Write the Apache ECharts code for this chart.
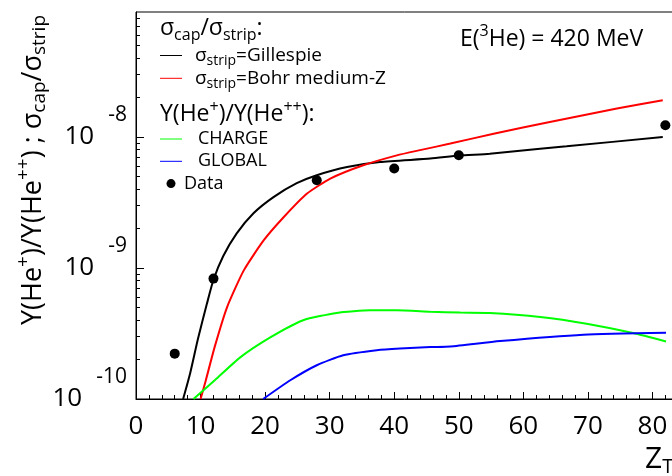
<!DOCTYPE html>
<html><head><meta charset="utf-8">
<script src="https://cdn.jsdelivr.net/npm/echarts@6/dist/echarts.min.js"></script>
<style>html,body{margin:0;padding:0;background:#fff}#c{width:672px;height:476px}</style>
</head><body><div id="c"></div>
<script>
// ---- data ----
const zGillespie = [7.3, 8.4, 9.6, 11.0, 12.0, 13.5, 15.6, 18.2, 21.3, 24.9, 28.0, 32.7, 37.8, 45.6, 50.0, 54.8, 62.6, 66.7, 81.6];
const vGillespie = [1.0e-10, 1.58e-10, 2.88e-10, 5.37e-10, 8.13e-10, 1.23e-9, 1.84e-9, 2.62e-9, 3.48e-9, 4.44e-9, 5.11e-9, 5.90e-9, 6.44e-9, 6.84e-9, 7.21e-9, 7.46e-9, 8.13e-9, 8.49e-9, 1.0e-8];
const zBohr = [10.0, 10.8, 12.2, 14.1, 16.7, 19.8, 22.9, 26.5, 30.1, 35.2, 40.4, 44.0, 48.7, 55.4, 64.1, 74.5, 81.6];
const vBohr = [1.0e-10, 1.38e-10, 2.51e-10, 5.01e-10, 9.59e-10, 1.63e-9, 2.45e-9, 3.70e-9, 4.81e-9, 6.08e-9, 7.24e-9, 7.94e-9, 8.91e-9, 1.06e-8, 1.30e-8, 1.65e-8, 1.91e-8];
const zCharge = [8.9, 12.2, 16.1, 20.8, 25.9, 31.1, 36.3, 40.4, 45.6, 50.2, 54.8, 62.6, 69.8, 77.0, 82.1];
const vCharge = [1.0e-10, 1.39e-10, 2.07e-10, 2.95e-10, 3.99e-10, 4.54e-10, 4.75e-10, 4.75e-10, 4.64e-10, 4.57e-10, 4.54e-10, 4.23e-10, 3.76e-10, 3.19e-10, 2.75e-10];
const zGlobal = [19.7, 23.9, 28.0, 32.1, 37.3, 40.9, 45.6, 48.7, 56.4, 69.3, 82.1];
const vGlobal = [1.0e-10, 1.39e-10, 1.81e-10, 2.16e-10, 2.36e-10, 2.43e-10, 2.49e-10, 2.52e-10, 2.77e-10, 3.10e-10, 3.21e-10];
const zData = [6, 12, 28, 40, 50, 82];
const vData = [2.22e-10, 8.3e-10, 4.67e-9, 5.74e-9, 7.25e-9, 1.23e-8];
const yMinorTicks = [2e-10,3e-10,4e-10,5e-10,6e-10,7e-10,8e-10,9e-10,
                     2e-9,3e-9,4e-9,5e-9,6e-9,7e-9,8e-9,9e-9,
                     2e-8,3e-8,4e-8,5e-8,6e-8,7e-8,8e-8];
const xMin = 0, xMax = 90, xStep = 10;
const yMin = 1e-10, yMax = 9e-8;

const F = "'Open Sans', 'Noto Sans', sans-serif";
const pair = (xs, ys) => xs.map((x, i) => [x, ys[i]]);
const chart = echarts.init(document.getElementById('c'), null, {renderer: 'canvas'});

const lineSeries = (name, xs, ys, color) => ({
  name, type: 'line', data: pair(xs, ys), symbol: 'none', smooth: 0.2,
  lineStyle: {color, width: 2}, itemStyle: {color}, z: 3
});
const LINE_ICON = 'path://M0,0H22V1H0Z';

chart.setOption({
  animation: false,
  backgroundColor: '#fff',
  grid: {left: 136, top: 12, width: 581, height: 387, show: true, borderColor: '#000', borderWidth: 1,
         backgroundColor: 'transparent', outerBoundsMode: 'none', containLabel: false},
  xAxis: {
    type: 'value', min: xMin, max: xMax, interval: xStep,
    axisLine: {lineStyle: {color: '#000', width: 1}},
    axisTick: {inside: true, length: 7, lineStyle: {color: '#000'}},
    minorTick: {show: true, splitNumber: 5, length: 4, lineStyle: {color: '#000'}},
    splitLine: {show: false},
    axisLabel: {fontSize: 26, fontFamily: F, color: '#000', margin: 15, showMaxLabel: false}
  },
  yAxis: [{
    type: 'log', logBase: 10, min: yMin, max: yMax,
    axisLine: {show: true, lineStyle: {color: '#000', width: 1}},
    axisTick: {inside: true, length: 8, lineStyle: {color: '#000'}},
    splitLine: {show: false},
    axisLabel: {
      margin: 9, showMaxLabel: false,
      formatter: v => {
        const l = Math.log10(v), e = Math.round(l);
        if (Math.abs(l - e) > 1e-6) return '';
        return '{b|10}{e|' + e + '}';
      },
      rich: {
        b: {fontSize: 26, fontFamily: F, color: '#000', lineHeight: 30},
        e: {fontSize: 21, fontFamily: F, color: '#000', padding: [0, 0, 44, 14]}
      }
    }
  }, {
    type: 'log', logBase: 10, min: yMin, max: yMax, position: 'left',
    axisLine: {show: false}, axisLabel: {show: false}, splitLine: {show: false},
    axisTick: {inside: true, length: 4, customValues: yMinorTicks, lineStyle: {color: '#000'}}
  }],
  legend: [{
    orient: 'vertical', left: 160, top: 46, padding: 0, itemGap: 0.3,
    itemWidth: 22, itemHeight: 9, symbolKeepAspect: true,
    data: [{name: 'Gillespie', icon: LINE_ICON}, {name: 'Bohr', icon: LINE_ICON}],
    formatter: n => n === 'Gillespie' ? '{m|σ}{s|strip}{m|=Gillespie}' : '{m|σ}{s|strip}{m|=Bohr medium-Z}',
    textStyle: {padding: [0, 0, 0, 8], rich: {
      m: {fontSize: 19, fontFamily: F, color: '#000', lineHeight: 22},
      s: {fontSize: 14, fontFamily: F, color: '#000', padding: [12, 0, 0, 0]}
    }}
  }, {
    orient: 'vertical', left: 160, top: 128, padding: 0, itemGap: 0.3,
    itemWidth: 22, itemHeight: 9, symbolKeepAspect: true,
    data: [
      {name: 'CHARGE', icon: LINE_ICON, textStyle: {padding: [0, 0, 0, 11]}},
      {name: 'GLOBAL', icon: LINE_ICON, textStyle: {padding: [0, 0, 0, 11]}},
      {name: 'Data', icon: 'circle', textStyle: {padding: [0, 0, 0, -3]}}
    ],
    textStyle: {fontSize: 18, fontFamily: F, color: '#000', lineHeight: 22}
  }],
  graphic: [
    {type: 'text', left: 160, top: 17, style: {
      text: '{m|σ}{s|cap}{m|/σ}{s|strip}{m|:}', fill: '#000',
      rich: {m: {fontSize: 23, fontFamily: F, fill: '#000', lineHeight: 30},
             s: {fontSize: 16, fontFamily: F, fill: '#000', padding: [14, 0, 0, 0]}}}},
    {type: 'text', left: 160, top: 99, style: {
      text: '{m|Y(He}{p|+}{m|)/Y(He}{p|++}{m|):}', fill: '#000',
      rich: {m: {fontSize: 23, fontFamily: F, fill: '#000', lineHeight: 30},
             p: {fontSize: 16, fontFamily: F, fill: '#000', padding: [0, 0, 14, 0]}}}},
    {type: 'text', left: 460, top: 23, style: {
      text: '{m|E(}{p|3}{m|He) = 420 MeV}', fill: '#000',
      rich: {m: {fontSize: 23, fontFamily: F, fill: '#000', lineHeight: 30},
             p: {fontSize: 16, fontFamily: F, fill: '#000', padding: [0, 0, 16, 0]}}}},
    {type: 'text', x: 645, y: 459, style: {
      text: '{m|Z}{s|T}', fill: '#000', textVerticalAlign: 'middle', verticalAlign: 'middle',
      rich: {m: {fontSize: 30, fontFamily: F, fill: '#000', lineHeight: 36},
             s: {fontSize: 20, fontFamily: F, fill: '#000', padding: [16, 0, 0, 0]}}}},
    {type: 'text', x: 33, y: 15, rotation: Math.PI / 2, style: {
      text: '{m|Y(He}{p|+}{m|)/Y(He}{p|++}{m|) ; σ}{s|cap}{m|/σ}{s|strip}', fill: '#000',
      align: 'right', textAlign: 'right', verticalAlign: 'middle', textVerticalAlign: 'middle',
      rich: {m: {fontSize: 27, fontFamily: F, fill: '#000', lineHeight: 34},
             p: {fontSize: 19, fontFamily: F, fill: '#000', padding: [0, 0, 18, 0]},
             s: {fontSize: 19, fontFamily: F, fill: '#000', padding: [14, 0, 0, 0]}}}}
  ],
  series: [
    lineSeries('Gillespie', zGillespie, vGillespie, '#000000'),
    lineSeries('Bohr', zBohr, vBohr, '#ff0000'),
    lineSeries('CHARGE', zCharge, vCharge, '#00ff00'),
    lineSeries('GLOBAL', zGlobal, vGlobal, '#0000ff'),
    {name: 'Data', type: 'scatter', data: pair(zData, vData), symbol: 'circle', symbolSize: 10,
     itemStyle: {color: '#000', opacity: 1}, z: 5}
  ]
});
</script>
</body></html>
